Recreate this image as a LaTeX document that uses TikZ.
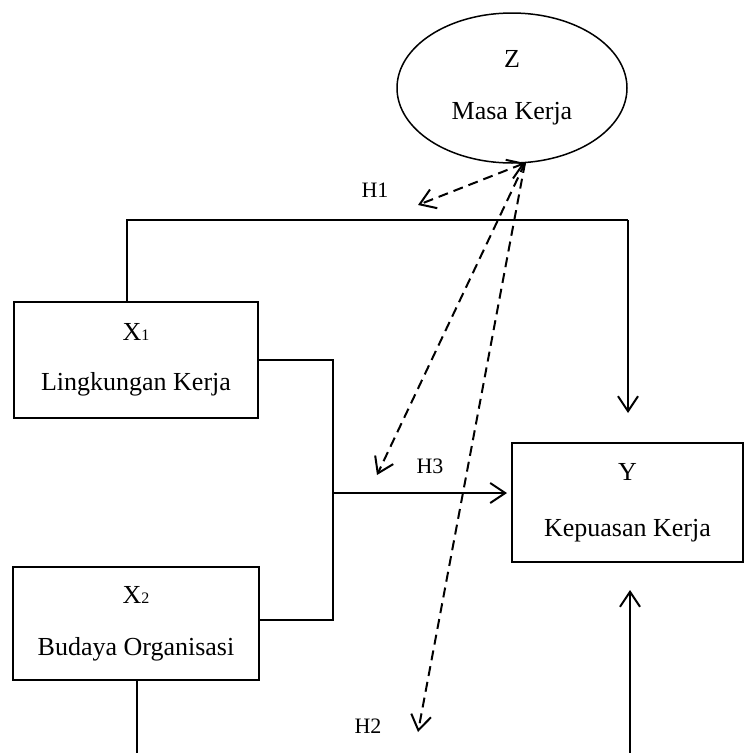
\documentclass[tikz,border=0pt]{standalone}
\usepackage{fontspec}
\setmainfont{Liberation Serif}
\usetikzlibrary{arrows.meta,calc,shapes.geometric}
\begin{document}
\begin{tikzpicture}[x=1pt,y=-1pt,
  line width=2pt,
  tip/.style={-{Straight Barb[length=15pt,width=20pt,line width=2pt]}},
  bitip/.style={{Straight Barb[length=15pt,width=20pt,line width=2pt]}-{Straight Barb[length=15pt,width=20pt,line width=2pt]}},
  dsh/.style={dash pattern=on 10pt off 6pt},
  lbl/.style={font=\fontsize{26}{30}\selectfont, align=center},
  hl/.style={font=\fontsize{22}{26}\selectfont, inner sep=0pt},
  box/.style={draw, line width=2pt, rectangle, inner sep=0pt, lbl}
]
\useasboundingbox (0,0) rectangle (744,753);
% nodes
\node[draw, ellipse, line width=1.5pt, minimum width=230pt, minimum height=150pt, inner sep=0pt, lbl] (z) at (512,88) {Z\\[22pt]Masa Kerja};
\node[box, minimum width=244pt, minimum height=116pt] (x1) at (136,360) {X{\fontsize{16}{18}\selectfont 1}\\[20pt]Lingkungan Kerja};
\node[box, minimum width=246pt, minimum height=113pt] (x2) at (136,623.5) {X{\fontsize{16}{18}\selectfont 2}\\[22pt]Budaya Organisasi};
\node[box, minimum width=231pt, minimum height=119pt] (y) at (627.5,502.5) {Y\\[26pt]Kepuasan Kerja};
% labels
\node[hl] (h1) at (375,190) {H1};
\node[hl] (h3) at (430,466) {H3};
\node[hl] (h2) at (368,726) {H2};
% coordinates
\coordinate (topL) at (127,220);
\coordinate (topR) at (628,220);
\coordinate (t1) at (628,413);
\coordinate (j1) at (333,360);
\coordinate (j2) at (333,620);
\coordinate (jm) at (333,493);
\coordinate (t3) at (507,493);
\coordinate (b2) at (137,753);
\coordinate (b3) at (630,753);
\coordinate (t4) at (630,590);
\coordinate (zs) at (525,163);
\coordinate (d1) at (418,205);
\coordinate (d3) at (377,475);
\coordinate (d2) at (418,732);
% solid connectors
\draw (x1.north -| topL) -- (topL) -- (topR);
\draw[tip] (topR) -- (t1);
\draw (x1.east) -- (j1) -- (j2) -- (x2.east |- j2);
\draw[tip] (jm) -- (t3);
\draw (x2.south -| b2) -- (b2);
\draw[tip] (b3) -- (t4);
% dashed connectors
\draw[bitip, dsh] (zs) -- (d1);
\draw[tip, dsh] (zs) -- (d3);
\draw[tip, dsh] (zs) -- (d2);
\end{tikzpicture}
\end{document}
